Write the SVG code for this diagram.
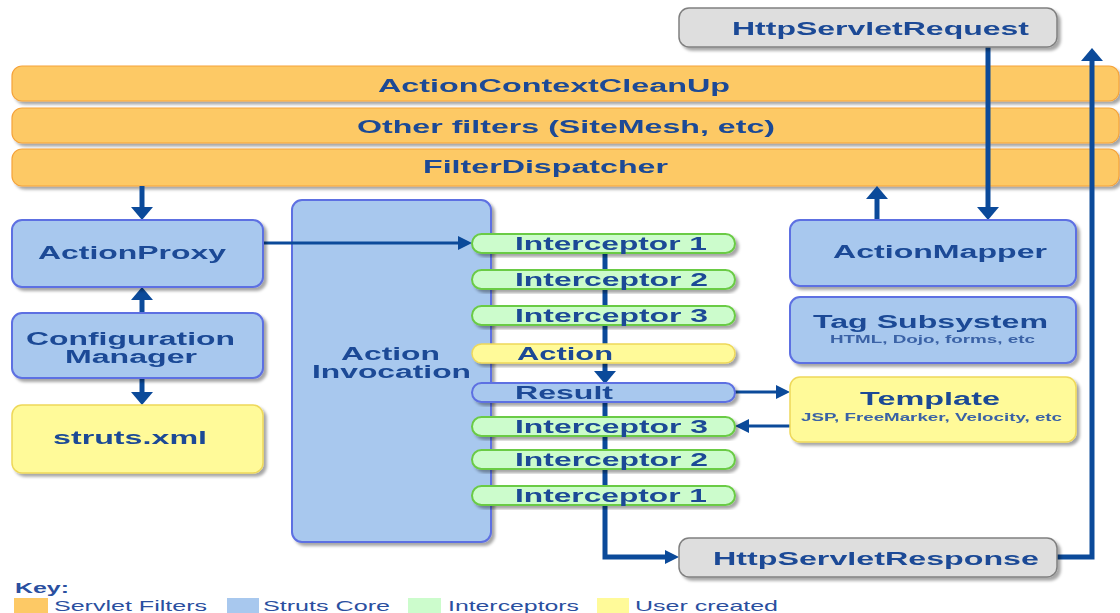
<svg xmlns="http://www.w3.org/2000/svg" width="1120" height="613" viewBox="0 0 1120 613">
<defs>
<filter id="sh" x="-5%" y="-10%" width="115%" height="130%">
<feDropShadow dx="3" dy="3" stdDeviation="1.5" flood-color="#000" flood-opacity="0.35"/>
</filter>
<marker id="big" markerUnits="userSpaceOnUse" markerWidth="13" markerHeight="22" viewBox="0 0 13 22" refX="0" refY="11" orient="auto">
<path d="M0,0 L13,11 L0,22 z" fill="#0B4A9A"/>
</marker>
<marker id="sm" markerUnits="userSpaceOnUse" markerWidth="14" markerHeight="14" viewBox="0 0 14 14" refX="0" refY="7" orient="auto">
<path d="M0,0 L14,7 L0,14 z" fill="#0B4A9A"/>
</marker>
</defs>
<style>
text{font-family:"Liberation Sans",Arial,sans-serif;fill:#1A4A96}
.b{font-weight:bold;font-size:18px}
.s{font-weight:bold;font-size:11px;fill:#3A62A6}
.k{font-size:15px;fill:#2A4FA0}
.filt{fill:#FDC965;stroke:#F5A33A;stroke-width:1.2}
.core{fill:#A8C8EE;stroke:#5D6FE2;stroke-width:2}
.user{fill:#FFFA99;stroke:#EED85A;stroke-width:1.5}
.int{fill:#CCFCCC;stroke:#6ACB45;stroke-width:2}
.grey{fill:#DEDEDE;stroke:#808080;stroke-width:1.5}
.c{fill:none;stroke:#0B4A9A;stroke-width:5}
.ch{fill:none;stroke:#0B4A9A;stroke-width:3}
</style>
<rect width="1120" height="613" fill="#fff"/>

<g id="actionContextCleanUp" filter="url(#sh)">
<rect class="filt" x="12" y="66" width="1107" height="35" rx="10"/>
<text class="b" x="378" y="92" textLength="352" lengthAdjust="spacingAndGlyphs">ActionContextCleanUp</text>
</g>
<g id="otherFilters" filter="url(#sh)">
<rect class="filt" x="12" y="108" width="1107" height="35" rx="10"/>
<text class="b" x="357" y="133" textLength="418" lengthAdjust="spacingAndGlyphs">Other filters (SiteMesh, etc)</text>
</g>
<g id="filterDispatcher" filter="url(#sh)">
<rect class="filt" x="12" y="149" width="1107" height="37" rx="10"/>
<text class="b" x="423" y="173" textLength="245" lengthAdjust="spacingAndGlyphs">FilterDispatcher</text>
</g>

<g id="actionInvocation" filter="url(#sh)">
<rect class="core" x="292" y="200" width="199" height="342" rx="10"/>
<text class="b" x="341" y="360" textLength="99" lengthAdjust="spacingAndGlyphs">Action</text>
<text class="b" x="312" y="378" textLength="159" lengthAdjust="spacingAndGlyphs">Invocation</text>
</g>

<g id="connectors">
<path class="c" d="M142,186 V207" marker-end="url(#big)"/>
<path class="c" d="M142,313 V300" marker-end="url(#big)"/>
<path class="c" d="M142,378 V392" marker-end="url(#big)"/>
<path class="ch" d="M263,243 H458" marker-end="url(#sm)"/>
<path class="c" d="M988,47 V207" marker-end="url(#big)"/>
<path class="c" d="M877,220 V199" marker-end="url(#big)"/>
<path class="c" d="M1057,557 H1092 V61" marker-end="url(#big)"/>
<path class="c" d="M605,244 V354"/>
<path class="c" d="M605,363 V371" marker-end="url(#big)"/>
<path class="c" d="M605,392 V557 H665" marker-end="url(#sm)"/>
<path class="ch" d="M735,392 H776" marker-end="url(#sm)"/>
<path class="ch" d="M790,426 H749" marker-end="url(#sm)"/>
</g>

<g id="httpServletRequest" filter="url(#sh)">
<rect class="grey" x="679" y="8" width="378" height="39" rx="10"/>
<text class="b" x="732" y="35" textLength="297" lengthAdjust="spacingAndGlyphs">HttpServletRequest</text>
</g>
<g id="httpServletResponse" filter="url(#sh)">
<rect class="grey" x="679" y="538" width="378" height="39" rx="10"/>
<text class="b" x="713" y="565" textLength="326" lengthAdjust="spacingAndGlyphs">HttpServletResponse</text>
</g>

<g id="actionProxy" filter="url(#sh)">
<rect class="core" x="12" y="220" width="251" height="67" rx="10"/>
<text class="b" x="38" y="259" textLength="188" lengthAdjust="spacingAndGlyphs">ActionProxy</text>
</g>
<g id="configurationManager" filter="url(#sh)">
<rect class="core" x="12" y="313" width="251" height="65" rx="10"/>
<text class="b" x="26" y="345" textLength="209" lengthAdjust="spacingAndGlyphs">Configuration</text>
<text class="b" x="65" y="363" textLength="132" lengthAdjust="spacingAndGlyphs">Manager</text>
</g>
<g id="strutsXml" filter="url(#sh)">
<rect class="user" x="12" y="405" width="251" height="68" rx="10"/>
<text class="b" x="53" y="444" textLength="154" lengthAdjust="spacingAndGlyphs">struts.xml</text>
</g>

<g id="interceptor1" filter="url(#sh)">
<rect class="int" x="472" y="234" width="263" height="19" rx="9.5"/>
<text class="b" x="515" y="250" textLength="192" lengthAdjust="spacingAndGlyphs">Interceptor 1</text>
</g>
<g id="interceptor2" filter="url(#sh)">
<rect class="int" x="472" y="270" width="263" height="19" rx="9.5"/>
<text class="b" x="515" y="286" textLength="193" lengthAdjust="spacingAndGlyphs">Interceptor 2</text>
</g>
<g id="interceptor3" filter="url(#sh)">
<rect class="int" x="472" y="306" width="263" height="19" rx="9.5"/>
<text class="b" x="515" y="322" textLength="193" lengthAdjust="spacingAndGlyphs">Interceptor 3</text>
</g>
<g id="action" filter="url(#sh)">
<rect class="user" x="472" y="344" width="263" height="19" rx="9.5"/>
<text class="b" x="517" y="360" textLength="96" lengthAdjust="spacingAndGlyphs">Action</text>
</g>
<g id="result" filter="url(#sh)">
<rect class="core" x="472" y="383" width="263" height="19" rx="9.5"/>
<text class="b" x="515" y="399" textLength="98" lengthAdjust="spacingAndGlyphs">Result</text>
</g>
<g id="interceptor3b" filter="url(#sh)">
<rect class="int" x="472" y="417" width="263" height="19" rx="9.5"/>
<text class="b" x="515" y="433" textLength="193" lengthAdjust="spacingAndGlyphs">Interceptor 3</text>
</g>
<g id="interceptor2b" filter="url(#sh)">
<rect class="int" x="472" y="450" width="263" height="19" rx="9.5"/>
<text class="b" x="515" y="466" textLength="193" lengthAdjust="spacingAndGlyphs">Interceptor 2</text>
</g>
<g id="interceptor1b" filter="url(#sh)">
<rect class="int" x="472" y="486" width="263" height="19" rx="9.5"/>
<text class="b" x="515" y="502" textLength="192" lengthAdjust="spacingAndGlyphs">Interceptor 1</text>
</g>

<g id="actionMapper" filter="url(#sh)">
<rect class="core" x="790" y="220" width="286" height="66" rx="10"/>
<text class="b" x="833" y="258" textLength="214" lengthAdjust="spacingAndGlyphs">ActionMapper</text>
</g>
<g id="tagSubsystem" filter="url(#sh)">
<rect class="core" x="790" y="297" width="286" height="66" rx="10"/>
<text class="b" x="813" y="328" textLength="235" lengthAdjust="spacingAndGlyphs">Tag Subsystem</text>
<text class="s" x="830" y="343" textLength="205" lengthAdjust="spacingAndGlyphs">HTML, Dojo, forms, etc</text>
</g>
<g id="template" filter="url(#sh)">
<rect class="user" x="790" y="377" width="286" height="65" rx="10"/>
<text class="b" x="860" y="405" textLength="140" lengthAdjust="spacingAndGlyphs">Template</text>
<text class="s" x="801" y="421" textLength="261" lengthAdjust="spacingAndGlyphs">JSP, FreeMarker, Velocity, etc</text>
</g>

<g id="key">
<text x="15" y="593" style="font-weight:bold;font-size:14px;fill:#2A4FA0" textLength="54" lengthAdjust="spacingAndGlyphs">Key:</text>
<rect x="14" y="598" width="34" height="16" fill="#FDC965"/>
<text class="k" x="54" y="611" textLength="153" lengthAdjust="spacingAndGlyphs">Servlet Filters</text>
<rect x="227" y="598" width="32" height="16" fill="#A8C8EE"/>
<text class="k" x="263" y="611" textLength="127" lengthAdjust="spacingAndGlyphs">Struts Core</text>
<rect x="408" y="598" width="33" height="16" fill="#CCFCCC"/>
<text class="k" x="448" y="611" textLength="131" lengthAdjust="spacingAndGlyphs">Interceptors</text>
<rect x="597" y="598" width="32" height="16" fill="#FFFA99"/>
<text class="k" x="635" y="611" textLength="143" lengthAdjust="spacingAndGlyphs">User created</text>
</g>
</svg>
